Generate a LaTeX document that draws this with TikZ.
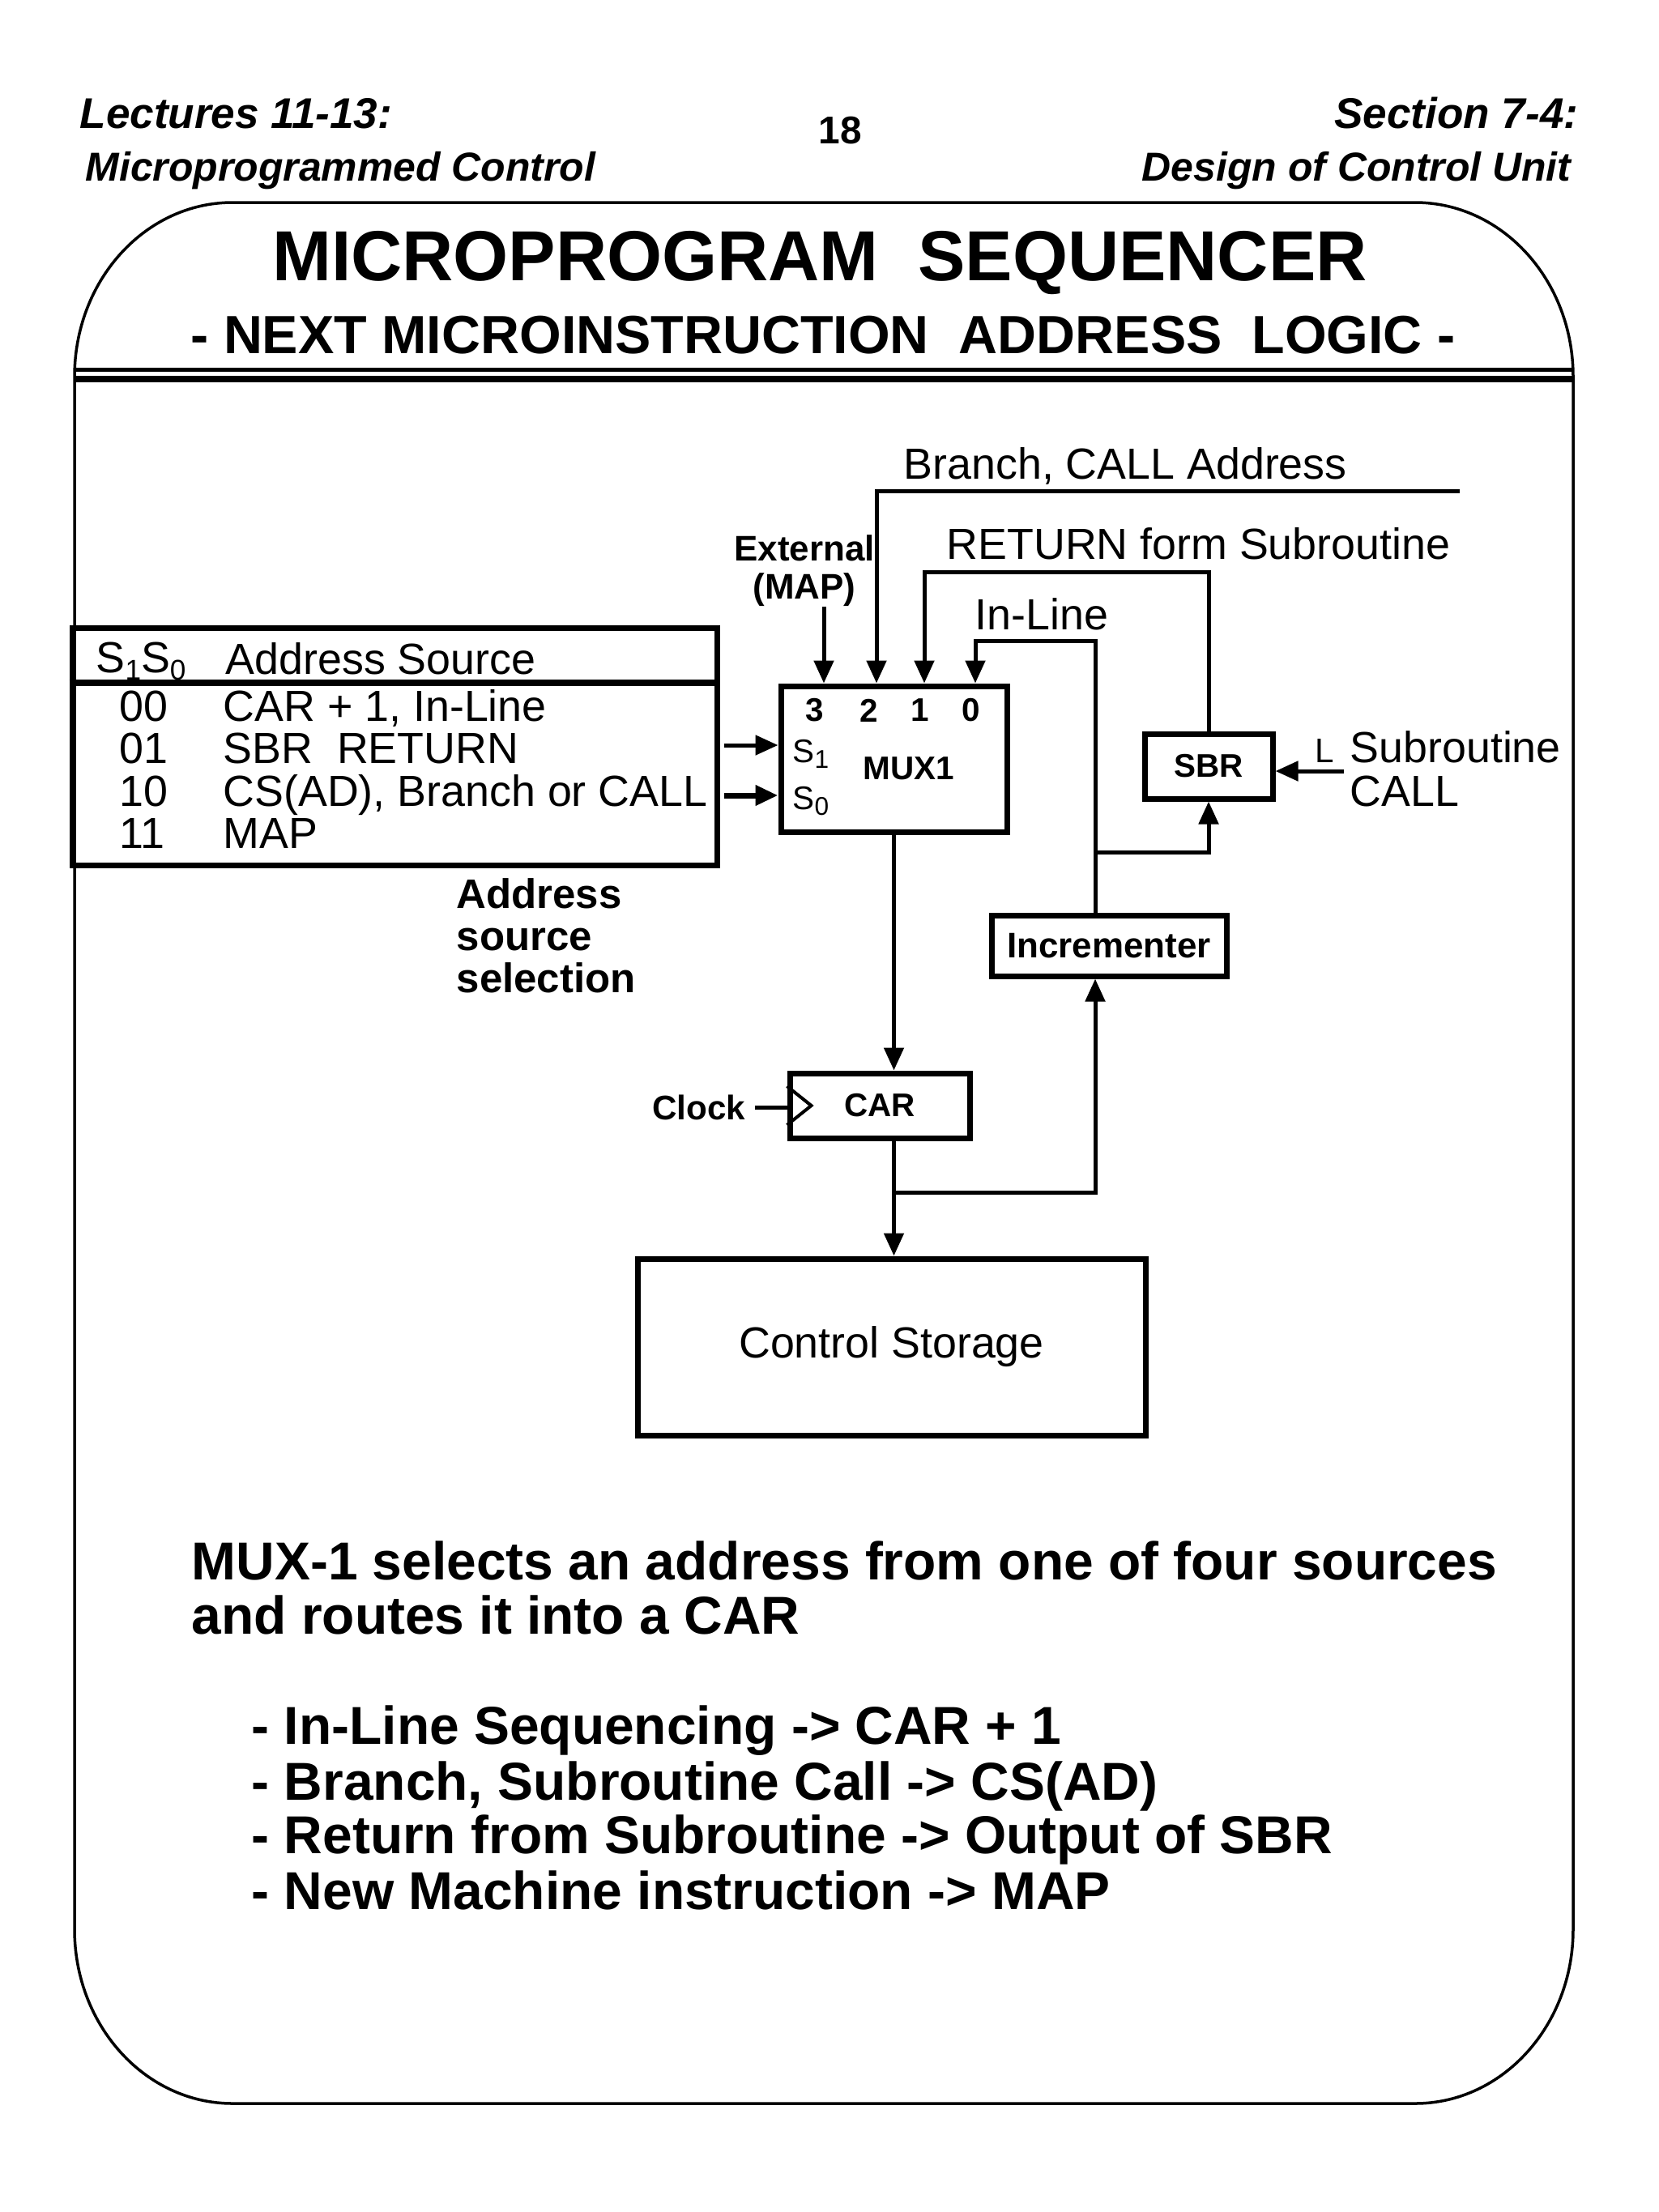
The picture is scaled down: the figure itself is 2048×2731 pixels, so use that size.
\documentclass[tikz,border=0pt]{standalone}
\usepackage{fontspec}
\setmainfont{Liberation Sans}
\usetikzlibrary{arrows.meta,calc}
\newcommand{\lowsub}[2]{\raisebox{-0.35ex}{\fontsize{#1}{#1}\selectfont #2}}

\begin{document}
\begin{tikzpicture}[x=0.1mm,y=-0.1mm,
  box/.style={draw=black,line width=0.7mm,rectangle},
  wire/.style={draw=black,line width=0.5mm},
  arr/.style={wire,-{Triangle[width=2.4mm,length=2.8mm]}},
  lbl/.style={font=\fontsize{15.3}{18}\selectfont},
  blbl/.style={font=\bfseries\fontsize{11.5}{14}\selectfont},
  hdr/.style={font=\bfseries\itshape\fontsize{15.1}{18}\selectfont},
  hdrsub/.style={font=\bfseries\itshape\fontsize{14.2}{17}\selectfont},
  btxt/.style={font=\bfseries\fontsize{18.75}{22}\selectfont}]
\tikzstyle{every node}+=[inner sep=0pt]
\useasboundingbox (0,0) rectangle (2048,2731);
\draw [black,line width=0.35mm] (92,465) -- (92,2382)
  arc[start angle=180,end angle=270,x radius=19.5mm,y radius=21.5mm] -- (1747,2597)
  arc[start angle=270,end angle=360,x radius=19.5mm,y radius=21.5mm] -- (1942,465)
  arc[start angle=0,end angle=90,x radius=19.5mm,y radius=21.5mm] -- (287,250)
  arc[start angle=90,end angle=180,x radius=19.5mm,y radius=21.5mm] -- cycle;
\draw [black,line width=0.5mm] (92,456.5) -- (1942,456.5);
\draw [black,line width=0.8mm] (92,468) -- (1942,468);
\node (lect) [hdr,anchor=base west] at (98,158) {Lectures 11-13:};
\node (lectsub) [hdrsub,anchor=base west] at (105,223) {Microprogrammed Control};
\node (page) [anchor=base,font=\bfseries\fontsize{13.6}{16}\selectfont] at (1037,177) {18};
\node (sect) [hdr,anchor=base east] at (1949,158) {Section 7-4:};
\node (sectsub) [hdrsub,anchor=base east] at (1940,223) {Design of Control Unit};
\node (title) [anchor=base,font=\bfseries\fontsize{24.9}{28}\selectfont] at (1012,346) {MICROPROGRAM~ SEQUENCER};
\node (subtitle) [anchor=base,font=\bfseries\fontsize{18.9}{22}\selectfont] at (1016,436) {- NEXT MICROINSTRUCTION~ ADDRESS~ LOGIC -};

\node (tab) [box,minimum width=79.6mm,minimum height=29.3mm] at (487,921.5) {};
\node (hsel) [lbl,anchor=base west] at (118,830) {S\lowsub{10}{1}S\lowsub{10}{0}};
\node (hsrc) [lbl,anchor=base west] at (278,832) {Address Source};
\draw [black,line width=0.8mm] ([yshift=-7.1mm]tab.north west) -- ([yshift=-7.1mm]tab.north east);
\foreach \code/\src/\yy [count=\i] in {00/{CAR + 1, In-Line}/890,01/{SBR~ RETURN}/942,10/{CS(AD), Branch or CALL}/995,11/MAP/1047} {
  \node (code\i) [lbl,anchor=base west] at (147,\yy) {\code};
  \node (src\i) [lbl,anchor=base west] at (275,\yy) {\src};
}
\node (asel) [anchor=north west,align=left,font=\bfseries\fontsize{14.5}{14.8}\selectfont] at (563,1084) {Address\\source\\selection};

\node (mux) [box,minimum width=27.9mm,minimum height=18mm] at (1103.5,937) {};
\node (muxname) [blbl] at (1122,949) {MUX1};
\foreach \n/\xx in {3/1006,2/1073,1/1136,0/1199}
  \node (num\n) [blbl] at (\xx,877) {\n};
\foreach \n/\dx in {3/5.65,2/12.15,1/18.05,0/24.35}
  \coordinate (in\n) at ([xshift=\dx mm]mux.north west);
\node (sel1) [anchor=base west,font=\fontsize{11.5}{14}\selectfont] at (978,941) {S\lowsub{9}{1}};
\node (sel0) [anchor=base west,font=\fontsize{11.5}{14}\selectfont] at (978,999) {S\lowsub{9}{0}};
\coordinate (s1pt) at ([yshift=1.7mm]mux.west);
\coordinate (s0pt) at ([yshift=-4.5mm]mux.west);
\draw [arr] (tab.east |- s1pt) ++(0.5mm,0) -- (s1pt);
\draw [arr,line width=0.7mm] (tab.east |- s0pt) ++(0.5mm,0) -- (s0pt);

\node (ext) [anchor=north,align=center,font=\bfseries\fontsize{12.5}{13.4}\selectfont] at (993,660) {External\\(MAP)};
\draw [arr] (in3 |- ext.south) -- (in3);

\node (brlbl) [lbl,anchor=base west] at (1115,591) {Branch, CALL Address};
\coordinate (brsrc) at (1802,606);
\draw [arr] (brsrc) -| (in2);

\node (sbr) [box,blbl,minimum width=15.8mm,minimum height=8mm] at (1492,946) {SBR};
\node (retlbl) [lbl,anchor=base west] at (1168,690) {RETURN form Subroutine};
\draw [arr] (sbr.north) |- ([yshift=13.75mm]in1) -- (in1);

\node (incr) [box,font=\bfseries\fontsize{12.5}{14}\selectfont,minimum width=29mm,minimum height=7.5mm] at (1369,1167.5) {Incrementer};
\coordinate (inctap) at ([xshift=-1.7mm]incr.north);
\node (inllbl) [lbl,anchor=base west] at (1203,777) {In-Line};
\draw [arr] (inctap) |- ([yshift=5.25mm]in0) -- (in0);
\coordinate (sbrtap) at (1352,1052);
\draw [arr] (sbrtap) -| (sbr.south);

\coordinate (callsrc) at (1659,952);
\draw [arr] (callsrc) -- (callsrc -| sbr.east);
\node (callL) [anchor=base west,font=\fontsize{12}{14}\selectfont] at (1623,941) {L};
\node (subr) [lbl,anchor=base west] at (1666,941) {Subroutine};
\node (subrcall) [lbl,anchor=base west] at (1666,995) {CALL};

\node (car) [box,blbl,minimum width=22.2mm,minimum height=8mm] at (1086,1365) {CAR};
\draw [arr] (mux.south) -- (mux.south |- car.north);
\draw [black,line width=0.4mm] ([yshift=2.4mm]car.west) -- ++(3mm,-2.4mm) -- ++(-3mm,-2.4mm);
\node (clk) [blbl,anchor=east,font=\bfseries\fontsize{12}{14}\selectfont] at (921,1367) {Clock};
\draw [wire] (clk.east) ++(1.1mm,0) -- (car.west |- clk.east);

\node (cs) [box,lbl,minimum width=62.7mm,minimum height=21.8mm] at (1100.5,1663) {Control Storage};
\draw [arr] (car.south -| mux.south) -- (cs.north -| mux.south);
\coordinate (cartap) at ([yshift=-6.4mm]car.south -| mux.south);
\draw [arr] (cartap) -| ([xshift=-1.7mm]incr.south);

\node (sum1) [btxt,anchor=base west] at (236,1950) {MUX-1 selects an address from one of four sources};
\node (sum2) [btxt,anchor=base west] at (236,2017) {and routes it into a CAR};
\foreach \t/\yy [count=\i] in {{In-Line Sequencing -> CAR + 1}/2153,{Branch, Subroutine Call -> CS(AD)}/2222,{Return from Subroutine -> Output of SBR}/2288,{New Machine instruction -> MAP}/2357}
  \node (item\i) [btxt,anchor=base west] at (310,\yy) {- \t};
\end{tikzpicture}
\end{document}
